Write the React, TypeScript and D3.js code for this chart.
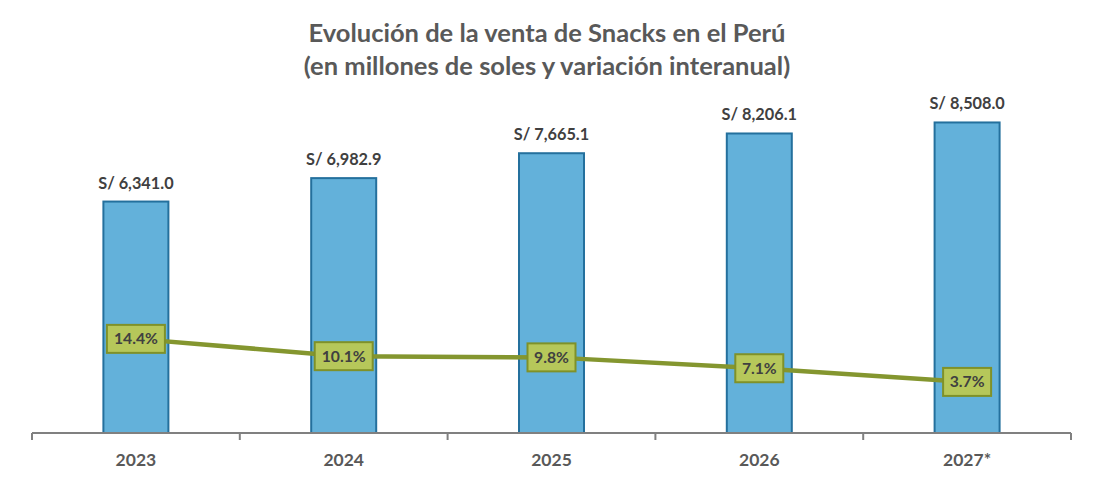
import React from "react";
import * as d3 from "d3";

const categories = ["2023", "2024", "2025", "2026", "2027*"];
const sales = [6341.0, 6982.9, 7665.1, 8206.1, 8508.0];
const growth = [14.4, 10.1, 9.8, 7.1, 3.7];
const titleLines = [
  "Evolución de la venta de Snacks en el Perú",
  "(en millones de soles y variación interanual)",
];

const W = 1094;
const H = 481;
const FONT = "Lato, 'Open Sans', sans-serif";

export default function App() {
  const x = d3.scaleBand<string>().domain(categories).range([32, 1071]).paddingInner(0).paddingOuter(0);
  const y = d3.scaleLinear().domain([0, 10000]).range([433, 68]);
  const y2 = d3.scaleLinear().domain([-9, 80]).range([433, 75]);
  const barW = 65;
  const cx = (c: string) => (x(c) as number) + x.bandwidth() / 2;
  const line = d3
    .line<number>()
    .x((_, i) => cx(categories[i]))
    .y((v) => y2(v));
  const fmtSales = (v: number) => "S/ " + d3.format(",.1f")(v);
  const fmtPct = (v: number) => d3.format(".1f")(v) + "%";
  const ticks = [...categories.map((c) => x(c) as number), 1071];

  return (
    <svg width={W} height={H} style={{ position: "absolute", left: 0, top: 0 }} fontFamily={FONT}>
      <rect width={W} height={H} fill="#ffffff" />
      {titleLines.map((t, i) => (
        <text
          key={i}
          x={547}
          y={42 + i * 33}
          textAnchor="middle"
          fontSize={25.5}
          fontWeight={700}
          fill="#595959"
        >
          {t}
        </text>
      ))}
      {categories.map((c, i) => (
        <g key={c}>
          <rect
            x={cx(c) - barW / 2}
            y={y(sales[i])}
            width={barW}
            height={433 - y(sales[i])}
            fill="#63b1da"
            stroke="#24709d"
            strokeWidth={2}
          />
          <text
            x={cx(c)}
            y={y(sales[i]) - 13}
            textAnchor="middle"
            fontSize={16.3}
            fontWeight={700}
            fill="#404040"
          >
            {fmtSales(sales[i])}
          </text>
        </g>
      ))}
      <line x1={32} x2={1071} y1={433} y2={433} stroke="#808080" strokeWidth={2} />
      {ticks.map((t, i) => (
        <line key={i} x1={t} x2={t} y1={433} y2={440} stroke="#808080" strokeWidth={2} />
      ))}
      {categories.map((c) => (
        <text key={c} x={cx(c)} y={466} textAnchor="middle" fontSize={17.5} fontWeight={700} fill="#595959">
          {c}
        </text>
      ))}
      <path d={line(growth) || ""} fill="none" stroke="#84962f" strokeWidth={4.5} />
      {categories.map((c, i) => {
        const label = fmtPct(growth[i]);
        const bw = label.length > 4 ? 58 : 48;
        return (
          <g key={c}>
            <rect
              x={cx(c) - bw / 2}
              y={y2(growth[i]) - 14}
              width={bw}
              height={28}
              fill="#b6c75a"
              stroke="#7f9129"
              strokeWidth={2}
            />
            <text
              x={cx(c)}
              y={y2(growth[i]) + 5.5}
              textAnchor="middle"
              fontSize={15.7}
              fontWeight={700}
              fill="#404040"
            >
              {label}
            </text>
          </g>
        );
      })}
    </svg>
  );
}
